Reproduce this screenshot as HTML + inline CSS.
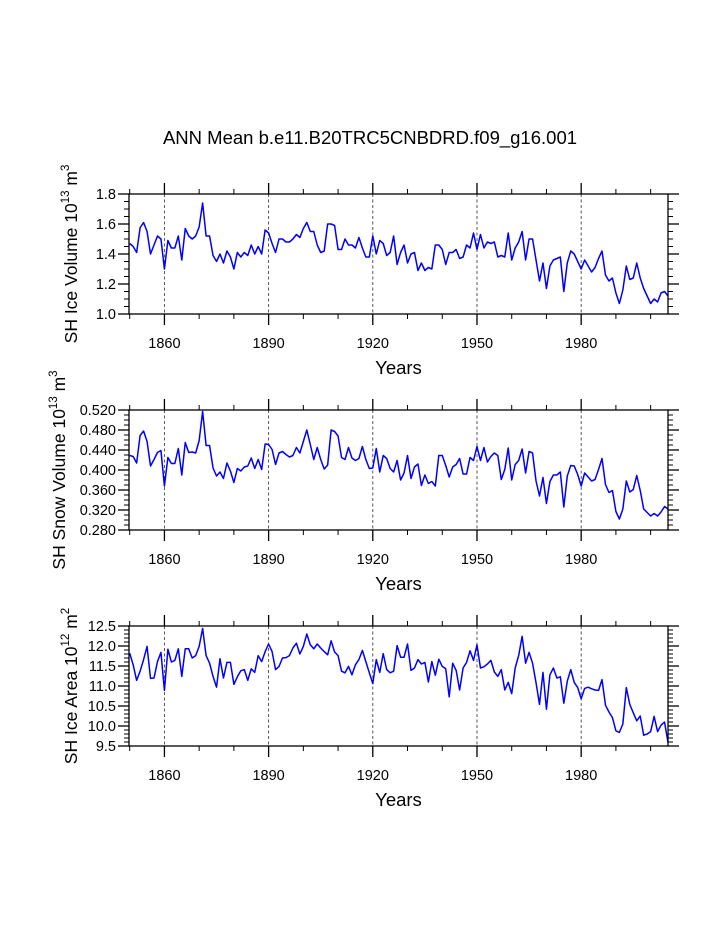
<!DOCTYPE html>
<html><head><meta charset="utf-8">
<style>
html,body{margin:0;padding:0;background:#fff;}
svg{display:block;font-family:"Liberation Sans",Arial,sans-serif;}
</style></head>
<body>
<svg id="chart" width="723" height="935" viewBox="0 0 723 935">
<text x="370" y="144" font-size="18.5" text-anchor="middle">ANN Mean b.e11.B20TRC5CNBDRD.f09_g16.001</text>
</svg>
<script>
const startYear = 1850;
const iceVolume = [1.47,1.45,1.41,1.575,1.61,1.55,1.40,1.46,1.52,1.50,1.30,1.49,1.44,1.44,1.52,1.36,1.57,1.52,1.50,1.52,1.58,1.74,1.52,1.52,1.39,1.35,1.40,1.34,1.42,1.38,1.30,1.41,1.38,1.41,1.39,1.46,1.40,1.45,1.40,1.56,1.54,1.47,1.41,1.50,1.50,1.48,1.48,1.50,1.53,1.51,1.57,1.61,1.55,
1.55,1.46,1.41,1.42,1.60,1.60,1.59,1.43,1.43,1.50,1.46,1.46,1.44,1.51,1.44,1.38,1.38,1.52,1.40,1.49,1.47,1.39,1.41,1.52,1.33,1.41,1.46,1.34,1.40,1.41,1.29,1.34,1.29,1.31,1.30,1.46,1.46,1.43,1.33,1.41,1.41,1.43,1.37,1.38,1.46,1.44,1.54,1.43,1.53,1.44,1.48,1.47,1.48,1.38,
1.39,1.38,1.54,1.36,1.44,1.48,1.55,1.36,1.50,1.50,1.36,1.22,1.34,1.17,1.32,1.36,1.37,1.38,1.15,1.34,1.42,1.40,1.35,1.30,1.36,1.32,1.28,1.31,1.37,1.42,1.26,1.22,1.24,1.14,1.07,1.16,1.32,1.23,1.24,1.34,1.24,1.17,1.12,1.07,1.10,1.08,1.14,1.15,1.12];
const snowVolume = [0.429,0.427,0.414,0.469,0.478,0.457,0.408,0.421,0.435,0.439,0.368,0.425,0.413,0.413,0.443,0.390,0.455,0.435,0.436,0.434,0.459,0.517,0.449,0.449,0.404,0.388,0.396,0.383,0.414,0.398,0.375,0.403,0.398,0.406,0.408,0.424,0.403,0.421,0.401,0.452,0.451,0.441,0.411,0.434,0.437,0.431,0.426,0.429,0.445,0.434,0.457,0.480,0.451,0.421,
0.445,0.421,0.402,0.410,0.480,0.477,0.468,0.425,0.421,0.445,0.424,0.419,0.423,0.447,0.421,0.403,0.404,0.443,0.396,0.429,0.423,0.403,0.396,0.419,0.380,0.394,0.429,0.383,0.406,0.412,0.369,0.390,0.373,0.377,0.368,0.429,0.429,0.409,0.386,0.406,0.411,0.423,0.392,0.392,0.425,0.419,0.447,0.419,0.445,0.416,0.427,0.434,0.429,0.381,
0.401,0.444,0.380,0.411,0.419,0.442,0.394,0.437,0.434,0.378,0.348,0.385,0.333,0.377,0.390,0.390,0.396,0.326,0.388,0.409,0.408,0.391,0.368,0.394,0.386,0.378,0.381,0.401,0.423,0.371,0.355,0.359,0.317,0.302,0.322,0.378,0.356,0.361,0.389,0.359,0.322,0.315,0.308,0.313,0.308,0.316,0.327,0.322];
const iceArea = [11.82,11.53,11.14,11.37,11.66,11.99,11.19,11.20,11.61,11.84,10.89,11.92,11.60,11.64,11.93,11.24,11.93,11.93,11.70,11.76,11.99,12.44,11.76,11.57,11.24,10.97,11.68,11.20,11.59,11.59,11.04,11.23,11.38,11.41,11.14,11.43,11.34,11.76,11.61,11.86,12.05,11.86,11.41,11.49,11.70,11.71,11.76,11.95,12.07,11.80,11.99,12.30,12.03,11.93,
12.05,11.95,11.86,11.78,12.13,11.85,11.76,11.37,11.33,11.49,11.28,11.53,11.66,11.89,11.61,11.33,11.06,11.66,11.34,11.81,11.41,11.33,11.37,12.01,11.72,11.72,12.05,11.39,11.45,11.66,11.55,11.59,11.10,11.61,11.27,11.67,11.49,11.43,10.73,11.57,11.39,10.90,11.45,11.59,11.88,11.64,12.03,11.45,11.48,11.55,11.64,11.35,11.24,11.41,
10.90,11.09,10.81,11.45,11.76,12.24,11.57,11.84,11.57,11.08,10.54,11.34,10.42,11.28,11.45,11.20,11.23,10.57,11.12,11.41,11.09,10.96,10.68,10.94,10.97,10.93,10.90,10.89,11.16,10.52,10.35,10.21,9.88,9.84,10.05,10.96,10.54,10.33,10.13,10.25,9.77,9.80,9.86,10.24,9.86,10.02,10.10,9.59];
const xMajorTicks = [1860,1890,1920,1950,1980];
const xMinorTicks = [1850,1870,1880,1900,1910,1930,1940,1960,1970,1990,2000];
const iceVolTicks = [1.0,1.2,1.4,1.6,1.8];
const iceVolTickLabels = ["1.0","1.2","1.4","1.6","1.8"];
const snowTicks = [0.28,0.32,0.36,0.40,0.44,0.48,0.52];
const snowTickLabels = ["0.280","0.320","0.360","0.400","0.440","0.480","0.520"];
const areaTicks = [9.5,10,10.5,11,11.5,12,12.5];
const areaTickLabels = ["9.5","10.0","10.5","11.0","11.5","12.0","12.5"];

const NS = "http://www.w3.org/2000/svg";
const svg = document.getElementById("chart");
function mk(tag, attrs, parent){
  const e = document.createElementNS(NS, tag);
  for (const k in attrs) e.setAttribute(k, attrs[k]);
  (parent||svg).appendChild(e);
  return e;
}
const X0 = 129, X1 = 668, YR0 = 1849.8, YR1 = 2005;
function xScale(yr){ return X0 + (yr - YR0) * (X1 - X0) / (YR1 - YR0); }

function panel(cfg){
  const g = mk("g", {});
  
  
  const top = cfg.top, bot = cfg.top + 120;
  const yScale = v => bot - (v - cfg.min) * (bot - top) / (cfg.max - cfg.min);
  xMajorTicks.forEach(t => {
    const l = mk("line", {x1:xScale(t), x2:xScale(t), y1:top, y2:bot, stroke:"#444", "stroke-width":0.9, "stroke-dasharray":"3,2.5"}, g);
    
    
  });
  xMajorTicks.forEach(t => {
    const x = xScale(t);
    mk("line", {x1:x,x2:x,y1:bot,y2:bot+11,stroke:"#000","stroke-width":1.3}, g);
    mk("line", {x1:x,x2:x,y1:top,y2:top-11,stroke:"#000","stroke-width":1.3}, g);
    const lb = mk("text", {x:x, y:bot+34, "font-size":14.5, "text-anchor":"middle"}, g);
    
    
    lb.textContent = t;
  });
  xMinorTicks.forEach(t => {
    const x = xScale(t);
    mk("line", {x1:x,x2:x,y1:bot,y2:bot+5,stroke:"#000","stroke-width":1}, g);
    mk("line", {x1:x,x2:x,y1:top,y2:top-5,stroke:"#000","stroke-width":1}, g);
  });
  cfg.ticks.forEach((t,i) => {
    const y = yScale(t);
    mk("line", {x1:X0-11,x2:X0,y1:y,y2:y,stroke:"#000","stroke-width":1.3}, g);
    mk("line", {x1:X1,x2:X1+11,y1:y,y2:y,stroke:"#000","stroke-width":1.3}, g);
    const lb = mk("text", {x:X0-13, y:y+5, "font-size":14.5, "text-anchor":"end"}, g);
    
    
    lb.textContent = cfg.labels[i];
  });
  for (let v = cfg.min; v <= cfg.max + 1e-9; v += cfg.minor) {
    const y = yScale(v);
    mk("line", {x1:X0-5,x2:X0,y1:y,y2:y,stroke:"#000","stroke-width":1}, g);
    mk("line", {x1:X1,x2:X1+5,y1:y,y2:y,stroke:"#000","stroke-width":1}, g);
  }
  const pts = cfg.data.map((v,i) => xScale(startYear+i).toFixed(2)+","+yScale(v).toFixed(2)).join(" ");
  const pl = mk("polyline", {points:pts, fill:"none", stroke:"#0000ff", "stroke-width":1.5, "stroke-linejoin":"round"}, g);
  
  
  const fr = mk("rect", {x:X0, y:top, width:X1-X0, height:bot-top, fill:"none", stroke:"#000", "stroke-width":1.3}, g);
  
  
  const xt = mk("text", {x:(X0+X1)/2, y:bot+60, "font-size":18.5, "text-anchor":"middle"}, g);
  
  
  xt.textContent = "Years";
  const cy = (top+bot)/2;
  const yt = mk("text", {x:0, y:0, "font-size":17.5, "text-anchor":"middle", transform:"translate("+cfg.titleX+","+cy+") rotate(-90)"}, g);
  
  
  const a = mk("tspan", {}, yt); a.textContent = cfg.title + " 10";
  const b = mk("tspan", {"font-size":11.5, dy:-8}, yt); b.textContent = cfg.exp;
  const c = mk("tspan", {dy:8}, yt); c.textContent = " m";
  const d = mk("tspan", {"font-size":11.5, dy:-8}, yt); d.textContent = cfg.unitExp;
}
panel({name:"ice-volume-panel", top:194, min:1.0, max:1.8, minor:0.05, ticks:iceVolTicks, labels:iceVolTickLabels, data:iceVolume, title:"SH Ice Volume", exp:"13", unitExp:"3", titleX:77});
panel({name:"snow-volume-panel", top:410, min:0.28, max:0.52, minor:0.01, ticks:snowTicks, labels:snowTickLabels, data:snowVolume, title:"SH Snow Volume", exp:"13", unitExp:"3", titleX:65});
panel({name:"ice-area-panel", top:626, min:9.5, max:12.5, minor:0.1, ticks:areaTicks, labels:areaTickLabels, data:iceArea, title:"SH Ice Area", exp:"12", unitExp:"2", titleX:77});
</script>
</body></html>
